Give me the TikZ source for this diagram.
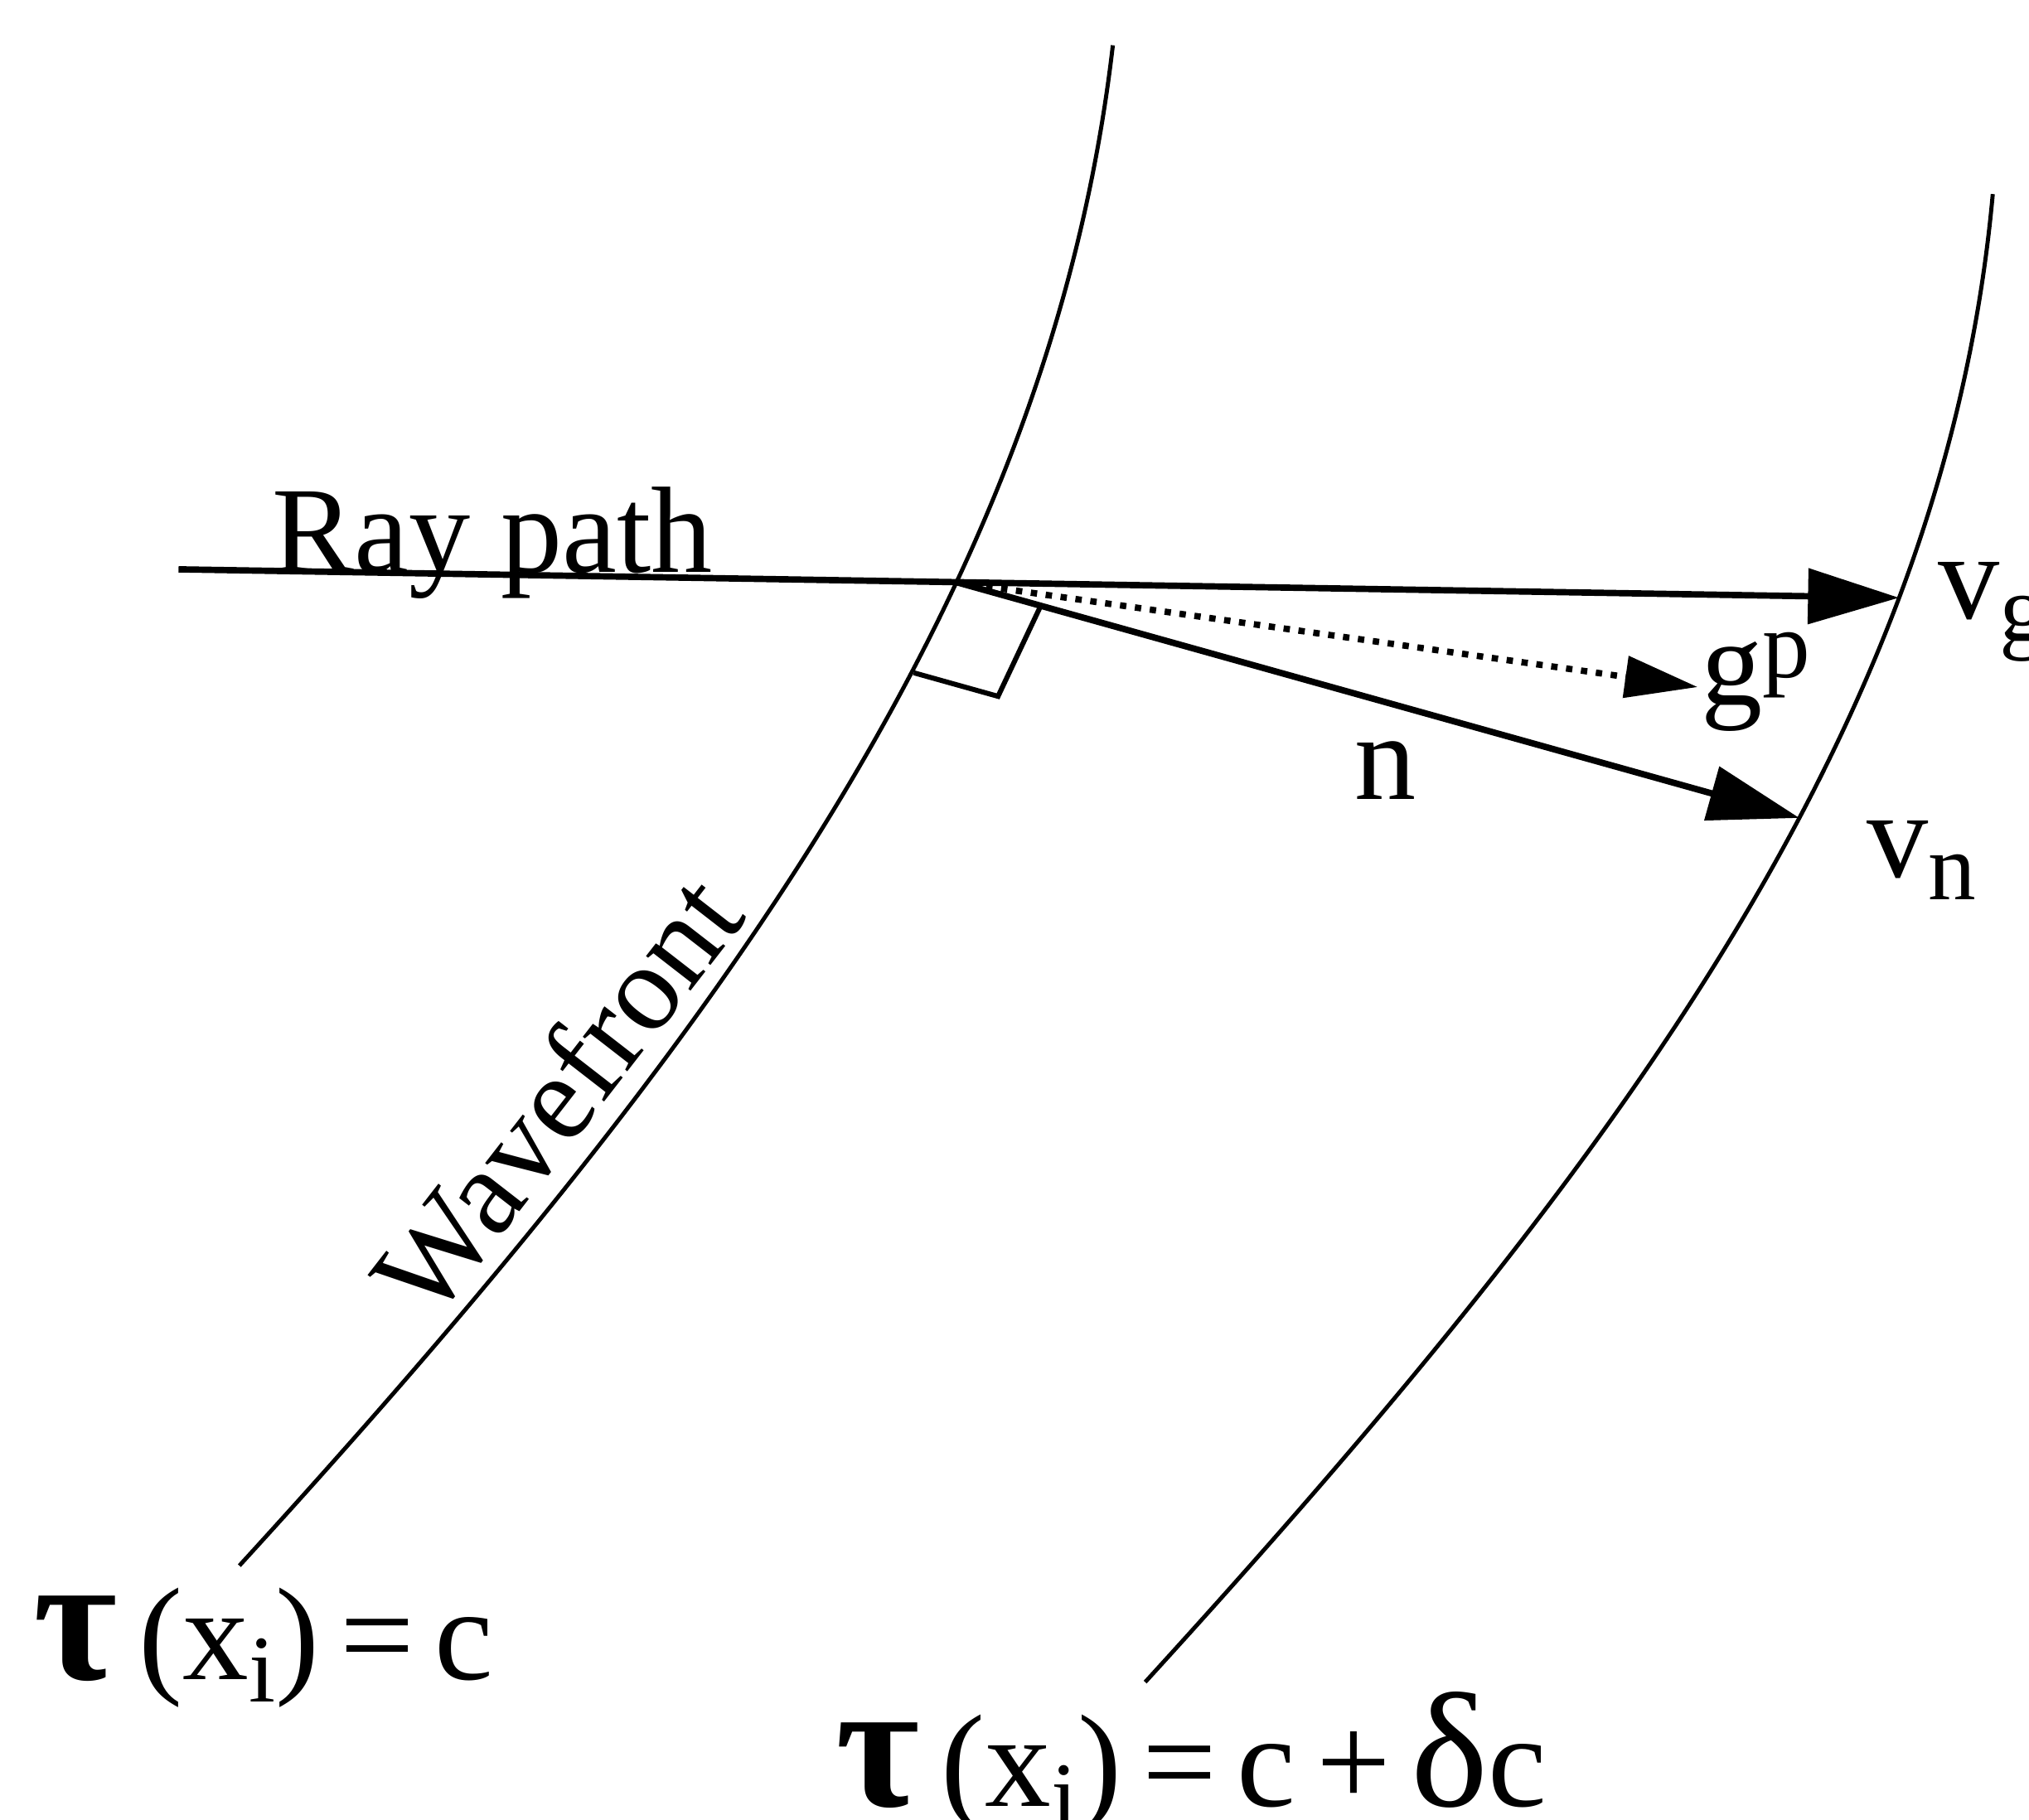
\documentclass[tikz,border=0pt]{standalone}
\usepackage{fontspec}
\setmainfont{Liberation Serif}
\usetikzlibrary{arrows.meta,calc,intersections}
\newcommand{\lbl}{\fontsize{27}{30}\selectfont}
\newcommand{\eqlbl}{\fontsize{29}{32}\selectfont}
\newcommand{\sbs}[1]{\raisebox{-5pt}{\fontsize{21}{21}\selectfont #1}}
\newcommand{\sps}[1]{\raisebox{6pt}{\fontsize{21}{21}\selectfont #1}}
\newcommand{\tautxt}{{\fontsize{40}{40}\selectfont\bfseries τ}}
\newcommand{\deltxt}{{\fontsize{36}{36}\selectfont δ}}
\newcommand{\gap}{\hspace{4.5pt}}

\begin{document}
\begin{tikzpicture}[x=0.01cm,y=-0.01cm,
  every node/.style={font=\lbl,inner sep=0pt},
  front/.style={line width=0.9pt},
  ray/.style={line width=1.4pt},
  tip/.style={-{Triangle[length=20pt,width=12pt]}},
  dotln/.style={line width=1.4pt,dash pattern=on 1.4pt off 1.9pt}]
\useasboundingbox (0,0) rectangle (1568,1406);
\clip (0,0) rectangle (1568,1406);
% the two wavefronts
\draw[front,name path=wfa] (860,35) .. controls (812,450) and (560,800) .. (185,1210)
  node[pos=0.72,sloped,above,inner sep=4pt] (wf) {Wavefront};
\draw[front,name path=wfb] (1540,150) .. controls (1503,560) and (1250,900) .. (885,1300);
% ray and the points where it meets the fronts
\coordinate (r0) at (138,440);
\coordinate (r1) at (1560,463.5);
\path[name path=rayln] (r0) -- (r1);
\path[name intersections={of=wfa and rayln,by=P}];
\path[name intersections={of=wfb and rayln,by=G}];
\coordinate (naim) at (1390,632);
\path[name path=nln] (P) -- ($(P)!1.15!(naim)$);
\path[name intersections={of=wfb and nln,by=N}];
\coordinate (gp) at (1312,531);
% vectors
\draw[ray,tip] (r0) -- (G);
\draw[ray,tip] (P) -- (N);
\draw[dotln,-{Triangle[length=16pt,width=9pt]}] (P) -- (gp);
% right angle mark
\coordinate (A) at ($(P)!0.1!(N)$);
\coordinate (B) at ($(P)+(-33,70)$);
\coordinate (C) at ($(A)+(B)-(P)$);
\draw[line width=1.1pt] (A) -- (C) -- (B);
% labels
\node[anchor=base west] (raylbl) at (210,442) {Ray path};
\node[anchor=base west] (vg) at (1497,478) {v\sbs{g}};
\node[anchor=base west] (vn) at (1442,678) {v\sbs{n}};
\node[anchor=base west] (nlbl) at (1046,618) {n};
\node[anchor=base west] (gplbl) at (1314,545) {g\sps{p}};
\node[anchor=base west,font=\eqlbl] (tau1) at (25,1298) {\tautxt\,(x\sbs{i})\gap=\gap c};
\node[anchor=base west,font=\eqlbl] (tau2) at (645,1396) {\tautxt\,(x\sbs{i})\gap=\gap c\gap+\gap\deltxt c};
\end{tikzpicture}
\end{document}
